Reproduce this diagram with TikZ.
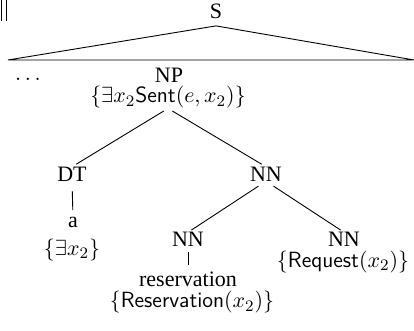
\documentclass[tikz,border=0pt]{standalone}
\usepackage{fontspec}
\setmainfont{Liberation Serif}
\begin{document}
\begin{tikzpicture}[x=0.5pt,y=-0.5pt,
  lbl/.style={inner sep=0pt,outer sep=0pt,font=\fontsize{11}{13}\selectfont},
  branch/.style={line width=0.45pt}]
\useasboundingbox (0,0) rectangle (414,331);

% fragment of a rule at the upper left corner
\draw[branch] (1,0) -- (1,21);
\draw[branch] (6,0) -- (6,21);

% nodes of the tree
\node[lbl] (S)   at (216,11.5) {S};
\node[lbl] (dots) at (28,79) {$\ldots$};
\node[lbl] (NP)  at (169,75) {NP};
\node[lbl] (NPs) at (168,97.5) {$\{\exists x_2\mathsf{Sent}(e,x_2)\}$};
\node[lbl] (DT)  at (72,174) {DT};
\node[lbl] (NN)  at (266,174) {NN};
\node[lbl] (a)   at (73,222.5) {a};
\node[lbl] (DTs) at (72,250) {$\{\exists x_2\}$};
\node[lbl] (NNl) at (188,239.5) {NN};
\node[lbl] (res) at (188,279) {reservation};
\node[lbl] (NNls) at (192,302.5) {$\{\mathsf{Reservation}(x_2)\}$};
\node[lbl] (NNr) at (344,239.5) {NN};
\node[lbl] (NNrs) at (343,262) {$\{\mathsf{Request}(x_2)\}$};

% collapsed subtree under S
\coordinate (apex) at ([yshift=-3.5pt]S.south);
\coordinate (lb) at (8,60);
\coordinate (rb) at (414,60);
\draw[branch] (lb) -- (apex) -- (rb) -- cycle;

% branches
\draw[branch,shorten <=2.5pt,shorten >=2.5pt] (NPs.south) -- (DT.north);
\draw[branch,shorten <=2.5pt,shorten >=2.5pt] (NPs.south) -- (NN.north);
\draw[branch,shorten <=4.5pt,shorten >=2pt] (NN.south) -- (NNl.north);
\draw[branch,shorten <=4.5pt,shorten >=2pt] (NN.south) -- (NNr.north);
\draw[branch,shorten <=5pt,shorten >=3.5pt] (DT.south) -- (a.north);
\draw[branch,shorten <=2.5pt,shorten >=3.5pt] (NNl.south) -- (res.north);
\end{tikzpicture}
\end{document}
